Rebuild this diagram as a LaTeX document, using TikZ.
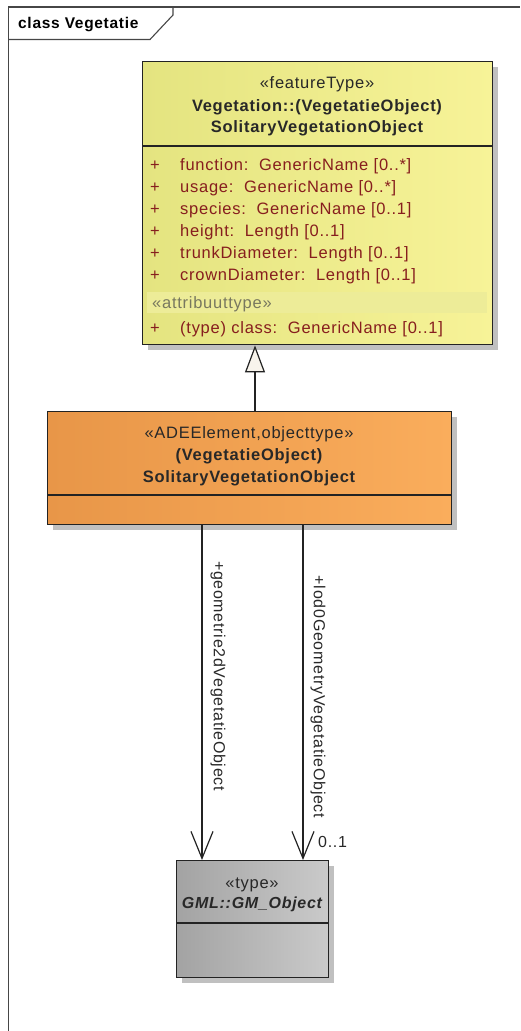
\documentclass[tikz,border=0pt]{standalone}
\usepackage{fontspec}
\setmainfont{Liberation Sans}[LetterSpace=4.5]
\usetikzlibrary{arrows.meta,shadows}
\definecolor{frameC}{RGB}{70,70,70}
\definecolor{lineC}{RGB}{35,35,35}
\definecolor{txtC}{RGB}{40,40,40}
\definecolor{attrC}{RGB}{135,30,30}
\definecolor{stereoC}{RGB}{120,120,95}
\definecolor{yelL}{RGB}{228,228,128}
\definecolor{yelR}{RGB}{247,243,152}
\definecolor{bandC}{RGB}{237,236,152}
\definecolor{oraL}{RGB}{232,150,72}
\definecolor{oraR}{RGB}{250,173,92}
\definecolor{gryL}{RGB}{163,163,163}
\definecolor{gryR}{RGB}{202,202,202}
\definecolor{triC}{RGB}{248,244,236}
\definecolor{shadowC}{RGB}{192,192,192}
\tikzset{
  umlbox/.style={draw=lineC, line width=1.4pt, rectangle, inner sep=0pt, anchor=north west,
    drop shadow={shadow xshift=5pt, shadow yshift=-5pt, fill=shadowC, opacity=1}},
  hdr/.style={font=\fontsize{16.5}{19}\selectfont, text=txtC, anchor=base, inner sep=0pt},
  hdrb/.style={font=\fontsize{16.5}{19}\selectfont\bfseries, text=txtC, anchor=base, inner sep=0pt},
  attr/.style={font=\fontsize{16.5}{19}\selectfont, text=attrC, anchor=base west, inner sep=0pt},
  lbl/.style={font=\fontsize{16}{19}\selectfont, text=txtC, inner sep=0pt},
  conn/.style={draw=lineC, line width=1.2pt},
}
\begin{document}
\begin{tikzpicture}[x=1pt,y=-1pt]
\useasboundingbox (0,0) rectangle (520,1031);
% frame
\coordinate (fbl) at (8.5,1031);
\coordinate (ftl) at (8.5,7);
\coordinate (ftr) at (520,7);
\coordinate (tabA) at (8.5,39.5);
\coordinate (tabB) at (150,39.5);
\coordinate (tabC) at (173,15);
\coordinate (tabD) at (173,7);
\draw[frameC, line width=1.3pt] (fbl) -- (ftl) -- (ftr);
\draw[frameC, line width=1.1pt] (tabA) -- (tabB) -- (tabC) -- (tabD);
\node[font=\fontsize{15.5}{18}\selectfont\bfseries, text=black, anchor=base west, inner sep=0pt] (title) at (18,28) {class Vegetatie};

% feature type box
\node[umlbox, left color=yelL, right color=yelR, minimum width=350pt, minimum height=283pt] (feat) at (142,61) {};
\fill[bandC] (147,291.5) rectangle (487,313) coordinate (bandE);
\draw[lineC, line width=1.2pt] (feat.west |- 0,146) coordinate (fd1) -- (feat.east |- 0,146) coordinate (fd2);
\node[hdr] (fs) at (317,88) {«featureType»};
\node[hdrb] (fn1) at (317,111) {Vegetation::(VegetatieObject)};
\node[hdrb] (fn2) at (317,132) {SolitaryVegetationObject};
\foreach \y/\t [count=\i] in {170/{function:\ \ GenericName [0..*]},192/{usage:\ \ GenericName [0..*]},214/{species:\ \ GenericName [0..1]},236/{height:\ \ Length [0..1]},258/{trunkDiameter:\ \ Length [0..1]},280/{crownDiameter:\ \ Length [0..1]}}{
  \node[attr] (p\i) at (150,\y) {+};
  \node[attr] (a\i) at (180,\y) {\t};
}
\node[attr, text=stereoC] (ast) at (152,308) {«attribuuttype»};
\node[attr] (p7) at (150,333) {+};
\node[attr] (a7) at (180,333) {(type) class:\ \ GenericName [0..1]};

% ADE box
\node[umlbox, left color=oraL, right color=oraR, minimum width=404pt, minimum height=113pt] (ade) at (47,411) {};
\draw[lineC, line width=1.2pt] (ade.west |- 0,495) coordinate (ad1) -- (ade.east |- 0,495) coordinate (ad2);
\node[hdr] (as) at (249,438) {«ADEElement,objecttype»};
\node[hdrb] (an1) at (249,460) {(VegetatieObject)};
\node[hdrb] (an2) at (249,482) {SolitaryVegetationObject};

% GM box
\node[umlbox, left color=gryL, right color=gryR, minimum width=152pt, minimum height=117pt] (gm) at (176,860) {};
\draw[lineC, line width=1.2pt] (gm.west |- 0,923) coordinate (gd1) -- (gm.east |- 0,923) coordinate (gd2);
\node[hdr] (gs) at (252,888) {«type»};
\node[hdrb, font=\fontsize{16}{19}\selectfont\bfseries\itshape] (gn) at (252,908) {GML::GM\_Object};

% generalization
\draw[conn, -{Triangle[length=27pt, width=20pt, fill=triC]}] (ade.north -| 255,0) -- (feat.south -| 255,0);

% associations
\draw[conn, -{Straight Barb[length=27pt, width=22pt]}] (ade.south -| 202,0) -- (gm.north -| 202,0);
\draw[conn, -{Straight Barb[length=27pt, width=22pt]}] (ade.south -| 303,0) -- (gm.north -| 303,0);
\node[lbl, rotate=-90] (l1) at (218,676) {+geometrie2dVegetatieObject};
\node[lbl, rotate=-90] (l2) at (318,697) {+lod0GeometryVegetatieObject};
\node[lbl, anchor=base west] (m2) at (318,847) {0..1};
\end{tikzpicture}
\end{document}
